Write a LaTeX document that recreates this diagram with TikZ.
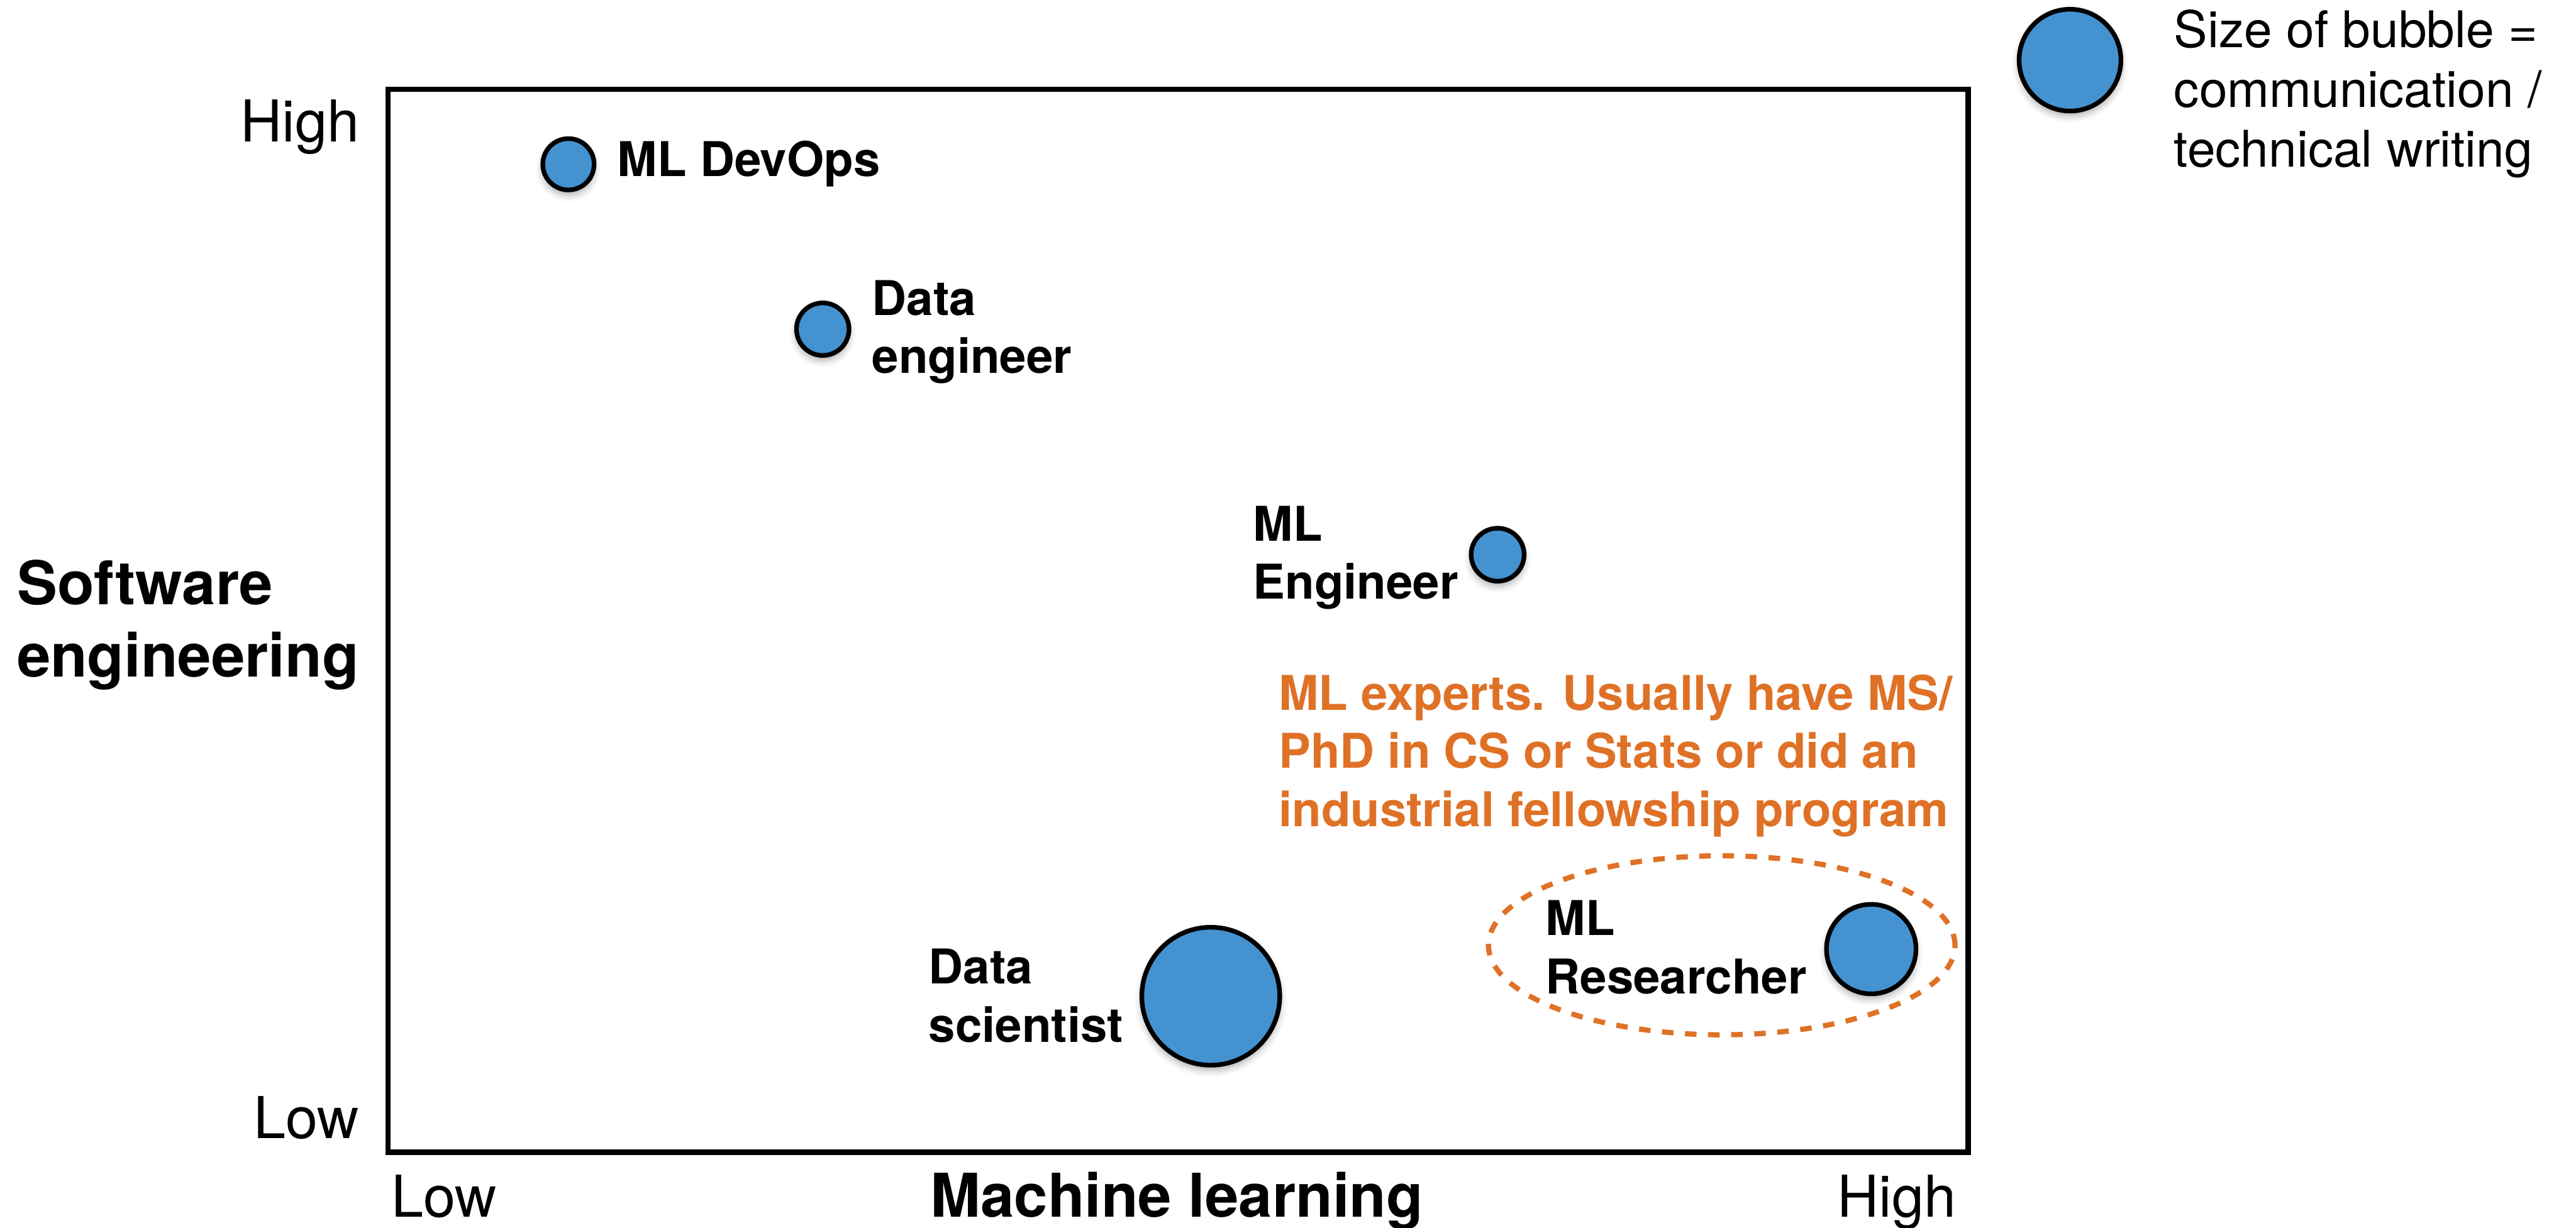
\documentclass[tikz,border=0pt]{standalone}
\usepackage{fontspec}
\setmainfont{TeX Gyre Heros}
\usetikzlibrary{shapes.geometric,shadows.blur}

\definecolor{bubbleblue}{RGB}{69,146,208}
\definecolor{noteorange}{RGB}{223,113,38}

% font size with explicit line spacing
\newcommand{\fsz}[2]{\fontsize{#1}{#2}\selectfont}
% left-aligned lines whose baseline is that of the first line
\newcommand{\linesof}[1]{\begin{tabular}[t]{@{}l@{}}#1\end{tabular}}

\begin{document}
\begin{tikzpicture}[x=0.02cm, y=-0.02cm,
  bubble/.style={circle, draw=black, line width=1.6pt, fill=bubbleblue,
    inner sep=0pt, minimum size=#1,
    blur shadow={shadow xshift=0pt, shadow yshift=-1.6pt,
      shadow blur radius=2.4pt, shadow opacity=35}},
  rolelabel/.style={anchor=base west, inner sep=0pt,
    font=\fsz{16.6}{20.1}\bfseries},
  axisval/.style={inner sep=0pt, font=\fsz{20}{24}},
  axistitle/.style={anchor=base west, inner sep=0pt,
    font=\fsz{20.9}{25}\bfseries},
]
\useasboundingbox (0,0) rectangle (1568,747.4);

% plot frame
\draw[line width=1.8pt, line join=miter] (236.3,54.4) rectangle (1198,701.5);

% axis ends
\node[axisval, anchor=base east] (yhigh) at (219,86.5) {High};
\node[axisval, anchor=base east] (ylow)  at (219,693) {Low};
\node[axisval, anchor=base west] (xlow)  at (238,741) {Low};
\node[axisval, anchor=base east] (xhigh) at (1191,741) {High};

% axis titles
\node[axistitle] (xtitle) at (566,741) {Machine learning};
\node[axistitle] (ytitle) at (10,368) {\linesof{Software\\engineering}};

% legend
\node[bubble=1.24cm] (legendbubble) at (1260,36.6) {};
\node[anchor=base west, inner sep=0pt, font=\fsz{17.5}{20.7}] (legendtext)
  at (1323,29) {\linesof{Size of bubble =\\communication /\\technical writing}};

% roles
\node[bubble=0.625cm] (devops) at (346,100) {};
\node[rolelabel] (devopslbl) at (375.5,107.5) {ML DevOps};

\node[bubble=0.64cm] (dataeng) at (500.8,200.4) {};
\node[rolelabel] (dataenglbl) at (530.5,192) {\linesof{Data\\engineer}};

\node[bubble=0.645cm] (mleng) at (911.6,337.7) {};
\node[rolelabel] (mlenglbl) at (762.5,329.4) {\linesof{ML\\Engineer}};

\node[bubble=1.68cm] (datasci) at (737,606.5) {};
\node[rolelabel] (datascilbl) at (565,599) {\linesof{Data\\scientist}};

\node[bubble=1.09cm] (mlres) at (1139,577.8) {};
\node[rolelabel] (mlreslbl) at (940.5,569.6) {\linesof{ML\\Researcher}};

% researcher group and note
\node[ellipse, draw=noteorange, line width=1.8pt,
  dash pattern=on 4pt off 4pt, inner sep=0pt,
  minimum width=5.68cm, minimum height=2.18cm] (expertgroup) at (1048,575.5) {};
\node[rolelabel, text=noteorange] (expertnote) at (778,432.4)
  {\linesof{ML experts. Usually have MS/\\PhD in CS or Stats or did an\\industrial fellowship program}};
\end{tikzpicture}
\end{document}
